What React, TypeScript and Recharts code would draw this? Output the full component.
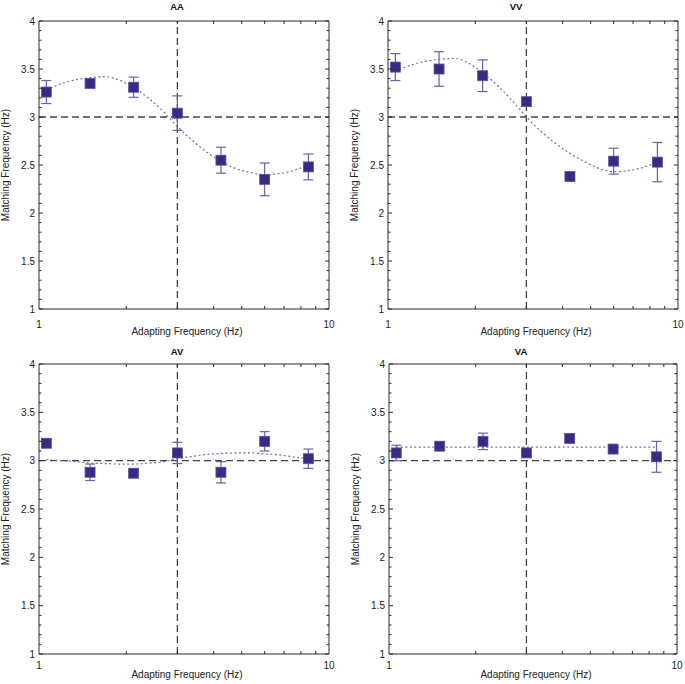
import React from 'react';
import { ComposedChart, Scatter, Line, XAxis, YAxis, ErrorBar, ReferenceLine } from 'recharts';

const FONT = '"Liberation Sans", Arial, Helvetica, sans-serif';

// ---------- data ----------
const xPoints = [1.06, 1.5, 2.12, 3, 4.24, 6, 8.49];

const aaMeans = [3.26, 3.35, 3.31, 3.04, 2.55, 2.35, 2.48];
const aaErrors = [0.12, 0.03, 0.105, 0.18, 0.135, 0.17, 0.135];
const vvMeans = [3.52, 3.5, 3.43, 3.16, 2.38, 2.54, 2.53];
const vvErrors = [0.14, 0.18, 0.165, 0.03, 0.04, 0.135, 0.205];
const avMeans = [3.18, 2.88, 2.87, 3.08, 2.88, 3.2, 3.02];
const avErrors = [0.04, 0.085, 0.04, 0.11, 0.11, 0.1, 0.1];
const vaMeans = [3.08, 3.15, 3.2, 3.08, 3.23, 3.12, 3.04];
const vaErrors = [0.08, 0.02, 0.085, 0.02, 0.03, 0.02, 0.16];

const curveX = [1.06, 1.2, 1.35, 1.5, 1.7, 1.9, 2.12, 2.4, 2.7, 3.0, 3.4, 3.8, 4.24, 4.8, 5.4, 6.0, 6.7, 7.5, 8.49];
const aaCurve = [3.28, 3.35, 3.39, 3.41, 3.42, 3.38, 3.31, 3.19, 3.05, 2.9, 2.75, 2.63, 2.54, 2.46, 2.42, 2.4, 2.41, 2.44, 2.5];
const vvCurve = [3.47, 3.54, 3.58, 3.6, 3.61, 3.56, 3.46, 3.32, 3.16, 3.0, 2.84, 2.72, 2.62, 2.53, 2.46, 2.43, 2.44, 2.47, 2.53];
const avCurve = [3.01, 3.0, 2.99, 2.975, 2.97, 2.965, 2.965, 2.975, 2.99, 3.02, 3.045, 3.065, 3.075, 3.08, 3.08, 3.07, 3.06, 3.04, 3.02];
const vaCurveX = [1.06, 8.49];
const vaCurve = [3.14, 3.14];

const xTicks = [1, 2, 3, 4, 5, 6, 7, 8, 9, 10];
const xLabelTicks = [1, 10];
const yTicks = [1, 1.1, 1.2, 1.3, 1.4, 1.5, 1.6, 1.7, 1.8, 1.9, 2, 2.1, 2.2, 2.3, 2.4, 2.5, 2.6, 2.7, 2.8, 2.9, 3, 3.1, 3.2, 3.3, 3.4, 3.5, 3.6, 3.7, 3.8, 3.9, 4];
const yLabelTicks = [1, 1.5, 2, 2.5, 3, 3.5, 4];

const xTitle = 'Adapting Frequency (Hz)';
const yTitle = 'Matching Frequency (Hz)';

// ---------- style ----------
const SQUARE_FILL = '#3a2a84';
const SQUARE_STROKE = '#5c519e';
const ERR_COLOR = '#6a62a8';
const CURVE_COLOR = '#6f6cb4';
const REF_COLOR = '#444444';
const AXIS_COLOR = '#2a2a2a';

const W = 342;
const H = 342;

type Panel = {
  title: string;
  means: number[];
  errors: number[];
  cx: number[];
  cy: number[];
  left: number;
  top: number;
  pl: number; pt: number; pr: number; pb: number; // plot box in chart coords
  tickDy: number;
  titleX: number;
  titleY: number;
  xTitleDy: number;
};

const panels: Panel[] = [
  { title: 'AA', means: aaMeans, errors: aaErrors, cx: curveX, cy: aaCurve, left: 0, top: 0, pl: 39, pt: 21, pr: 329, pb: 309, tickDy: 19, titleX: 177, titleY: 10, xTitleDy: 26 },
  { title: 'VV', means: vvMeans, errors: vvErrors, cx: curveX, cy: vvCurve, left: 349, top: 0, pl: 39, pt: 21, pr: 329, pb: 309, tickDy: 19, titleX: 167, titleY: 10, xTitleDy: 26 },
  { title: 'AV', means: avMeans, errors: avErrors, cx: curveX, cy: avCurve, left: 0, top: 342, pl: 39, pt: 22, pr: 329, pb: 312, tickDy: 15, titleX: 177, titleY: 12.5, xTitleDy: 24 },
  { title: 'VA', means: vaMeans, errors: vaErrors, cx: vaCurveX, cy: vaCurve, left: 349, top: 342, pl: 40, pt: 22, pr: 328, pb: 312, tickDy: 15, titleX: 172, titleY: 12.5, xTitleDy: 24 },
];

const Square = (props: any) => {
  const { cx, cy } = props;
  if (cx == null || cy == null) return null;
  return <rect x={cx - 5} y={cy - 5} width={10} height={10} fill={SQUARE_FILL} stroke={SQUARE_STROKE} strokeWidth={0.8} />;
};

const XTickBottom = (props: any) => {
  const { x, y, payload, dyLabel } = props;
  const v = payload.value;
  const labeled = xLabelTicks.includes(v);
  return (
    <g>
      {!labeled && <line x1={x} x2={x} y1={y} y2={y - 3} stroke={AXIS_COLOR} strokeWidth={1} />}
      {labeled && (
        <text x={x} y={y + dyLabel} textAnchor="middle" fontSize={10} fill="#222" fontFamily={FONT}>
          {String(v)}
        </text>
      )}
    </g>
  );
};

const XTickTop = (props: any) => {
  const { x, y, payload } = props;
  const v = payload.value;
  if (xLabelTicks.includes(v)) return <g />;
  return <line x1={x} x2={x} y1={y} y2={y + 3} stroke={AXIS_COLOR} strokeWidth={1} />;
};

const YTickLeft = (props: any) => {
  const { x, y, payload } = props;
  const v = payload.value;
  const major = yLabelTicks.includes(v);
  return (
    <g>
      <line x1={x} x2={x + (major ? 4 : 2.5)} y1={y} y2={y} stroke={AXIS_COLOR} strokeWidth={1} />
      {major && (
        <text x={x - 4} y={y + 3.5} textAnchor="end" fontSize={10} fill="#222" fontFamily={FONT}>
          {String(v)}
        </text>
      )}
    </g>
  );
};

const YTickRight = (props: any) => {
  const { x, y, payload } = props;
  const v = payload.value;
  const major = yLabelTicks.includes(v);
  return <line x1={x} x2={x - (major ? 4 : 2.5)} y1={y} y2={y} stroke={AXIS_COLOR} strokeWidth={1} />;
};

const PanelChart = ({ p }: { p: Panel }) => {
  const pts = xPoints.map((x, i) => ({ x, y: p.means[i], err: p.errors[i] }));
  const curve = p.cx.map((x, i) => ({ x, y: p.cy[i] }));
  const cxm = (p.pl + p.pr) / 2;
  const cym = (p.pt + p.pb) / 2;
  return (
    <div style={{ position: 'absolute', left: p.left, top: p.top, width: W, height: H }}>
      <ComposedChart
        width={W}
        height={H}
        margin={{ top: p.pt - 5, left: p.pl - 30, right: W - p.pr - 5, bottom: H - p.pb - 20 }}
      >
        <XAxis
          xAxisId="b"
          dataKey="x"
          type="number"
          scale="log"
          domain={[1, 10]}
          ticks={xTicks}
          interval={0}
          allowDataOverflow
          height={20}
          tickSize={0}
          tickMargin={0}
          tickLine={false}
          axisLine={{ stroke: AXIS_COLOR, strokeWidth: 1 }}
          tick={(tp: any) => <XTickBottom {...tp} dyLabel={p.tickDy} />}
        />
        <XAxis
          xAxisId="t"
          orientation="top"
          dataKey="x"
          type="number"
          scale="log"
          domain={[1, 10]}
          ticks={xTicks}
          interval={0}
          allowDataOverflow
          height={5}
          tickSize={0}
          tickMargin={0}
          tickLine={false}
          axisLine={{ stroke: AXIS_COLOR, strokeWidth: 1 }}
          tick={(tp: any) => <XTickTop {...tp} />}
        />
        <YAxis
          yAxisId="l"
          type="number"
          domain={[1, 4]}
          ticks={yTicks}
          interval={0}
          allowDataOverflow
          width={30}
          tickSize={0}
          tickMargin={0}
          tickLine={false}
          axisLine={{ stroke: AXIS_COLOR, strokeWidth: 1 }}
          tick={(tp: any) => <YTickLeft {...tp} />}
        />
        <YAxis
          yAxisId="r"
          orientation="right"
          type="number"
          domain={[1, 4]}
          ticks={yTicks}
          interval={0}
          allowDataOverflow
          width={5}
          tickSize={0}
          tickMargin={0}
          tickLine={false}
          axisLine={{ stroke: AXIS_COLOR, strokeWidth: 1 }}
          tick={(tp: any) => <YTickRight {...tp} />}
        />
        <ReferenceLine xAxisId="b" yAxisId="l" y={3} stroke={REF_COLOR} strokeWidth={1.3} strokeDasharray="7 4" />
        <ReferenceLine xAxisId="b" yAxisId="l" x={3} stroke={REF_COLOR} strokeWidth={1.3} strokeDasharray="7 4" />
        <Line
          xAxisId="b"
          yAxisId="l"
          data={curve}
          dataKey="y"
          type="monotone"
          dot={false}
          activeDot={false}
          stroke={CURVE_COLOR}
          strokeWidth={1.2}
          strokeDasharray="2 2.5"
          isAnimationActive={false}
        />
        <Scatter xAxisId="b" yAxisId="l" data={pts} dataKey="y" shape={Square} isAnimationActive={false}>
          <ErrorBar dataKey="err" direction="y" width={5} stroke={ERR_COLOR} strokeWidth={1.2} isAnimationActive={false} />
        </Scatter>
      </ComposedChart>
      <svg
        width={W}
        height={H}
        style={{ position: 'absolute', left: 0, top: 0, pointerEvents: 'none', overflow: 'visible' }}
      >
        <text x={p.titleX} y={p.titleY} textAnchor="middle" fontSize={9.5} fontWeight="bold" fill="#111" fontFamily={FONT}>
          {p.title}
        </text>
        <text x={cxm + 3} y={p.pb + p.xTitleDy} textAnchor="middle" fontSize={10} fill="#222" fontFamily={FONT}>
          {xTitle}
        </text>
        <text
          x={p.pl - 30}
          y={cym}
          transform={`rotate(-90 ${p.pl - 30} ${cym})`}
          textAnchor="middle"
          fontSize={10}
          fill="#222"
          fontFamily={FONT}
        >
          {yTitle}
        </text>
      </svg>
    </div>
  );
};

export default function App() {
  return (
    <div style={{ position: 'absolute', left: 0, top: 0, width: 685, height: 684, background: '#fff', overflow: 'hidden' }}>
      {panels.map((p) => (
        <PanelChart key={p.title} p={p} />
      ))}
    </div>
  );
}
